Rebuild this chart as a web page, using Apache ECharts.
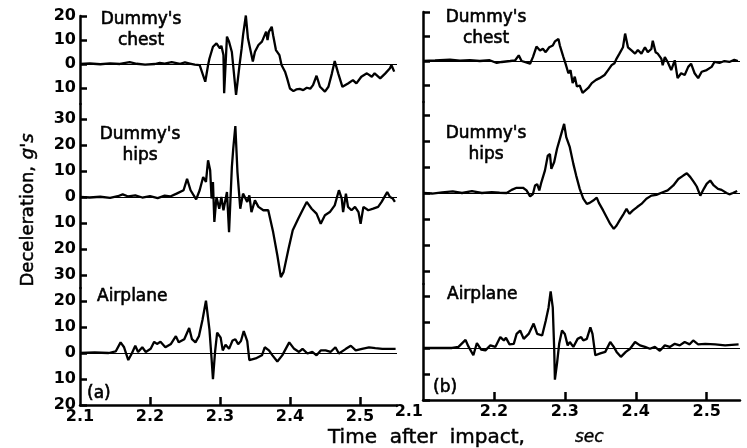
<!DOCTYPE html>
<html>
<head>
<meta charset="utf-8">
<script src="https://cdn.jsdelivr.net/npm/echarts@6/dist/echarts.min.js"></script>
<style>
  html, body { margin: 0; background: #fff; }
  #main { width: 747px; height: 448px; }
</style>
</head>
<body>
<div id="main"></div>
<script>
// tick values
var timeLabels = [2.1, 2.2, 2.3, 2.4, 2.5];
var timeTicks = [2.2, 2.3, 2.4, 2.5];
var chestTicks = [20, 10, 0, -10];
var hipsTicks = [30, 20, 10, 0, -10, -20, -30];
var planeTicks = [20, 10, 0, -10, -20];

// (a) traces, [time sec, deceleration g]
var chestA = [
  [2.100, 0], [2.114, 0.2], [2.129, -0.1], [2.143, 0.3], [2.157, 0], [2.171, 0.8], [2.181, 0.1],
  [2.193, -0.3], [2.207, 0], [2.214, 0.5], [2.221, 0.2], [2.231, 0.8], [2.243, 0.1], [2.250, 0.7],
  [2.257, 0.2], [2.264, -0.3], [2.271, -0.5], [2.279, -7.4], [2.283, -0.5], [2.285, 2.3],
  [2.290, 7.2], [2.295, 8.6], [2.300, 6.5], [2.302, 7.6], [2.305, 3.7], [2.306, -12.2],
  [2.310, 11.4], [2.313, 9.3], [2.317, 5], [2.323, -12.9], [2.328, -0.4], [2.331, 6.5],
  [2.333, 12], [2.337, 20.2], [2.340, 10.7], [2.347, 1], [2.350, 5.1], [2.355, 7.9],
  [2.360, 9.3], [2.363, 11.4], [2.366, 13.5], [2.368, 10], [2.370, 13.5], [2.374, 15.5],
  [2.376, 12], [2.380, 5.8], [2.385, 3.7], [2.388, -0.4], [2.393, -3.2], [2.396, -6],
  [2.400, -10.2], [2.405, -11.3], [2.409, -10.6], [2.414, -10.4], [2.419, -10.9], [2.424, -9.9],
  [2.429, -10.3], [2.433, -8.8], [2.438, -4.9], [2.443, -9.5], [2.450, -11.5], [2.455, -9.5],
  [2.460, -3.9], [2.464, 1.2], [2.469, -3.9], [2.475, -9.5], [2.483, -8.1], [2.490, -6.7],
  [2.495, -8.1], [2.502, -5.3], [2.510, -3.9], [2.517, -5.3], [2.521, -3.9], [2.529, -6],
  [2.536, -4], [2.543, -1.8], [2.545, -0.4], [2.549, -3.2]
];
var hipsA = [
  [2.100, 0], [2.114, -0.2], [2.129, 0.1], [2.143, -0.3], [2.154, 0.3], [2.161, 1], [2.169, 0.2],
  [2.179, 0.6], [2.189, -0.2], [2.200, 0.3], [2.211, -0.4], [2.221, 0.5], [2.229, 0.2],
  [2.238, 1.3], [2.248, 2.6], [2.253, 7], [2.258, 2.6], [2.266, -0.9], [2.271, 2.6],
  [2.276, 7.7], [2.280, 5.8], [2.283, 14.1], [2.286, 10.3], [2.288, -0.6], [2.290, 5.8],
  [2.292, -9.6], [2.295, 0], [2.299, -4.5], [2.302, 0], [2.305, -5.1], [2.310, 1.9],
  [2.313, -13.5], [2.317, 11.5], [2.319, 18.6], [2.322, 27.3], [2.325, 9.6], [2.329, -4.5],
  [2.333, 1.3], [2.339, -1.9], [2.342, 0.6], [2.345, -5.8], [2.350, -1.3], [2.355, -3.8],
  [2.362, -5.1], [2.369, -5.1], [2.376, -13.5], [2.382, -22.4], [2.387, -30.8], [2.391, -28.8],
  [2.398, -19.9], [2.404, -12.8], [2.412, -8.3], [2.419, -4.5], [2.424, -1.9], [2.431, -4.5],
  [2.438, -6.4], [2.444, -10.3], [2.450, -7], [2.457, -5.8], [2.464, -3.2], [2.470, 2.6],
  [2.474, -0.6], [2.476, -5.8], [2.480, 1.3], [2.483, -3.8], [2.488, -5.1], [2.493, -3.8],
  [2.498, -5.8], [2.501, -10.3], [2.505, -3.8], [2.512, -5.1], [2.519, -4.5], [2.526, -3.8],
  [2.531, -1.9], [2.539, 1.9], [2.543, 0], [2.547, -0.6], [2.550, -1.9]
];
var planeA = [
  [2.100, 0], [2.121, 0.2], [2.141, 0], [2.151, 0.6], [2.158, 4.1], [2.163, 2.2], [2.169, -2.7],
  [2.174, -0.2], [2.179, 2.8], [2.183, 0.4], [2.189, 2.2], [2.194, 0.4], [2.201, 1.6],
  [2.206, 4.3], [2.210, 3.5], [2.215, 4.3], [2.222, 2.2], [2.230, 3.5], [2.237, 6.5],
  [2.241, 4.1], [2.249, 5.3], [2.256, 9.6], [2.260, 5.3], [2.265, 4.1], [2.270, 6.5],
  [2.275, 12.7], [2.280, 20.1], [2.285, 9], [2.288, -2.1], [2.290, -10.1], [2.293, 0.4],
  [2.296, 7.8], [2.301, 5.9], [2.304, 1], [2.308, 3.2], [2.313, 1.6], [2.318, 4.8],
  [2.322, 5.3], [2.326, 3.4], [2.330, 4.6], [2.334, 8.4], [2.339, 4.6], [2.342, -2.7],
  [2.351, -2.1], [2.360, -0.9], [2.364, 2.2], [2.370, 1], [2.375, -0.9], [2.382, -3.3],
  [2.389, -0.9], [2.399, 4.1], [2.406, 1.6], [2.413, 0.4], [2.418, 1.6], [2.425, -0.2],
  [2.432, 0.4], [2.438, -0.9], [2.444, 1], [2.451, 1], [2.458, 0.4], [2.465, 2.2],
  [2.470, -0.2], [2.480, 1.6], [2.487, 2.8], [2.494, 1], [2.503, 1.6], [2.513, 2.2],
  [2.522, 1.9], [2.532, 1.6], [2.551, 1.6]
];

// (b) traces
var chestB = [
  [2.100, 0], [2.117, 0.2], [2.138, 0.6], [2.152, 0.1], [2.166, 0.4], [2.180, 0], [2.194, 0.3],
  [2.204, -0.8], [2.211, -0.4], [2.223, 0], [2.230, 0.3], [2.235, 2.3], [2.239, 0],
  [2.251, -1.1], [2.255, 1.6], [2.260, 5.9], [2.265, 4.3], [2.269, 5], [2.273, 3.6],
  [2.278, 5.6], [2.283, 6.3], [2.286, 8], [2.291, 9], [2.293, 6.3], [2.298, 1.6],
  [2.301, -1.1], [2.305, -5], [2.308, -3.7], [2.311, -9], [2.314, -6.4], [2.317, -10.4],
  [2.321, -10], [2.325, -13], [2.333, -11], [2.338, -9], [2.344, -7.7], [2.349, -7],
  [2.356, -5.7], [2.361, -3.7], [2.366, -1.7], [2.370, -0.9], [2.373, 1], [2.377, 3],
  [2.382, 5.6], [2.385, 11.2], [2.389, 5.6], [2.394, 4.3], [2.399, 3], [2.403, 4.5],
  [2.408, 3], [2.413, 5.6], [2.417, 3.6], [2.422, 4.9], [2.424, 8.3], [2.428, 3.6],
  [2.431, 3], [2.436, 1], [2.438, -1.7], [2.441, 1.6], [2.445, -0.4], [2.450, -3.7],
  [2.455, 0.3], [2.459, -7], [2.464, -5], [2.469, -5.7], [2.474, -2.4], [2.478, -1.1],
  [2.483, -5], [2.488, -7], [2.493, -4.4], [2.500, -3.7], [2.507, -2.4], [2.511, -0.4],
  [2.518, -0.8], [2.525, 0], [2.532, -0.4], [2.539, 0.5], [2.544, 0]
];
var hipsB = [
  [2.100, 0], [2.113, -0.2], [2.127, 0.2], [2.142, 0.6], [2.155, 0], [2.169, 0.7], [2.183, 0],
  [2.197, 0.3], [2.208, 0.1], [2.218, 0], [2.225, 1.2], [2.232, 2], [2.241, 2], [2.246, 1],
  [2.251, -1.3], [2.255, -0.4], [2.258, 2.9], [2.261, 3.4], [2.264, 1], [2.267, 4.2],
  [2.272, 8.7], [2.276, 14.4], [2.279, 15], [2.281, 9.3], [2.285, 11.9], [2.289, 17],
  [2.293, 20.8], [2.299, 26.6], [2.302, 21.5], [2.307, 17.6], [2.312, 11.2], [2.316, 6.7],
  [2.321, 1.6], [2.326, -2.2], [2.331, -4.2], [2.335, -3.8], [2.340, -2.9], [2.345, -1.8],
  [2.348, -3.8], [2.354, -6.7], [2.359, -9.3], [2.364, -11.9], [2.369, -13.8], [2.373, -12.5],
  [2.377, -10.6], [2.383, -8], [2.387, -6.1], [2.391, -8], [2.396, -6.7], [2.402, -5.4],
  [2.408, -4.2], [2.415, -2.2], [2.422, -1], [2.429, -0.7], [2.438, 0.3], [2.445, 1],
  [2.453, 2.9], [2.460, 5.4], [2.467, 6.7], [2.472, 7.6], [2.477, 6.1], [2.482, 4.2],
  [2.486, 2.5], [2.491, -1], [2.496, 1.6], [2.500, 3.5], [2.505, 4.8], [2.510, 2.9],
  [2.516, 1.6], [2.521, 1.2], [2.528, 0], [2.532, -0.5], [2.537, 0], [2.543, 0.8]
];
var planeB = [
  [2.100, 0], [2.141, 0], [2.150, 0.4], [2.160, 3.1], [2.164, 0.6], [2.171, -2.8], [2.176, 1.9],
  [2.182, -0.6], [2.188, -0.9], [2.195, 1], [2.202, 0.4], [2.209, 4.2], [2.214, 2.9],
  [2.217, 3.9], [2.222, 1.4], [2.228, 1.6], [2.232, 5.4], [2.237, 6.7], [2.242, 3.5],
  [2.249, 5.4], [2.256, 9.4], [2.261, 5.4], [2.268, 4.8], [2.273, 10.4], [2.277, 15.5],
  [2.280, 21.8], [2.283, 15.5], [2.285, -0.3], [2.286, -12.2], [2.289, -5.9], [2.292, 1.6],
  [2.296, 6.7], [2.300, 5.4], [2.304, 1], [2.307, 2.3], [2.312, 0.4], [2.318, 3.5],
  [2.323, 4.2], [2.326, 2.9], [2.331, 3.5], [2.336, 7.9], [2.339, 5.4], [2.343, -2.8],
  [2.350, -2.1], [2.357, -1.5], [2.364, 2.3], [2.369, 0.4], [2.373, -1.5], [2.379, -3.4],
  [2.386, -1.5], [2.392, -0.3], [2.399, 2.3], [2.406, 1], [2.413, 0.4], [2.420, -0.3],
  [2.427, 0.4], [2.434, -1.1], [2.441, 1], [2.448, 0.4], [2.455, 1.6], [2.462, 1],
  [2.469, 2.3], [2.476, 1.4], [2.481, 2.9], [2.488, 1.4], [2.498, 1.6], [2.512, 1.4],
  [2.526, 1], [2.545, 1.4]
];

var font = "DejaVu Sans";
var myChart = echarts.init(document.getElementById("main"));

// grid boxes: chest, hips, airplane for (a) then (b)
var grids = [
  { left: 80, top: 16, width: 317, height: 88 },
  { left: 80, top: 104, width: 317, height: 184 },
  { left: 80, top: 288, width: 317, height: 117 },
  { left: 423, top: 12, width: 317, height: 90 },
  { left: 423, top: 102, width: 317, height: 182 },
  { left: 423, top: 284, width: 317, height: 116 }
];
var yRanges = [
  [-16.67, 20], [-35, 35.77], [-20, 25],
  [-16.73, 20], [-35, 35], [-20, 24.6]
];
var yTicks = [chestTicks, hipsTicks, planeTicks, chestTicks, hipsTicks, planeTicks];
var traces = [chestA, hipsA, planeA, chestB, hipsB, planeB];

var xAxes = [], yAxes = [], series = [];
for (var i = 0; i < 6; i++) {
  var bottom = i === 2 || i === 5;
  var right = i >= 3;
  xAxes.push({
    gridIndex: i,
    type: "value",
    min: 2.1,
    max: right ? 2.547 : 2.553,
    show: bottom,
    axisLine: { onZero: false, lineStyle: { color: "#000", width: 2.5 } },
    axisTick: { inside: true, length: 8, customValues: timeTicks, lineStyle: { color: "#000", width: 2.5 } },
    axisLabel: {
      customValues: timeLabels,
      margin: 4,
      color: "#000",
      fontSize: 16,
      fontWeight: "bold",
      fontFamily: font,
      alignMinLabel: right ? "right" : "center",
      formatter: function (v) { return v.toFixed(1); }
    },
    splitLine: { show: false }
  });
  yAxes.push({
    gridIndex: i,
    type: "value",
    min: yRanges[i][0],
    max: yRanges[i][1],
    axisLine: { show: true, onZero: false, lineStyle: { color: "#000", width: 2.5 } },
    axisTick: { show: true, inside: true, length: 7, customValues: yTicks[i], lineStyle: { color: "#000", width: 2.5 } },
    axisLabel: {
      show: !right,
      customValues: yTicks[i],
      margin: 4,
      color: "#000",
      fontSize: 16,
      fontWeight: "bold",
      fontFamily: font,
      formatter: function (v) { return String(Math.abs(v)); }
    },
    splitLine: { show: false }
  });
  series.push({
    type: "line",
    xAxisIndex: i,
    yAxisIndex: i,
    data: traces[i],
    showSymbol: false,
    clip: false,
    lineStyle: { color: "#000", width: 2.3 },
    markLine: {
      silent: true,
      symbol: "none",
      label: { show: false },
      lineStyle: { color: "#000", width: 1.2, type: "solid" },
      data: [{ yAxis: 0 }]
    }
  });
}

function label(x, y, text, align) {
  return {
    type: "text",
    x: x,
    y: y,
    style: {
      text: text, fill: "#000", stroke: "#000", lineWidth: 0.6,
      font: "17px " + font, textAlign: align || "left", lineHeight: 21
    }
  };
}

var option = {
  animation: false,
  grid: grids.map(function (g) { return Object.assign({ outerBoundsMode: "none" }, g); }),
  xAxis: xAxes,
  yAxis: yAxes,
  series: series,
  graphic: [
    label(141, 9, "Dummy's\nchest", "center"),
    label(140, 124, "Dummy's\nhips", "center"),
    label(97, 286, "Airplane"),
    label(87, 383, "(a)"),
    label(486, 7, "Dummy's\nchest", "center"),
    label(486, 123, "Dummy's\nhips", "center"),
    label(447, 284, "Airplane"),
    label(433, 377, "(b)"),
    {
      type: "text",
      x: 28,
      y: 210,
      rotation: Math.PI / 2,
      style: {
        text: "{a|Deceleration,}  {b|g's}",
        textAlign: "center",
        textVerticalAlign: "middle",
        stroke: "#000",
        lineWidth: 0.5,
        rich: {
          a: { fontSize: 18, fontFamily: font, fill: "#000" },
          b: { fontSize: 18, fontFamily: font, fontStyle: "italic", fill: "#000" }
        }
      }
    },
    {
      type: "text",
      x: 328,
      y: 438,
      style: {
        text: "Time  after  impact,",
        textVerticalAlign: "middle",
        fill: "#000", stroke: "#000", lineWidth: 0.5,
        font: "20px " + font
      }
    },
    {
      type: "text",
      x: 575,
      y: 438,
      style: {
        text: "sec",
        textVerticalAlign: "middle",
        fill: "#000", stroke: "#000", lineWidth: 0.4,
        font: "italic 17px " + font
      }
    }
  ]
};
myChart.setOption(option);
</script>
</body>
</html>
